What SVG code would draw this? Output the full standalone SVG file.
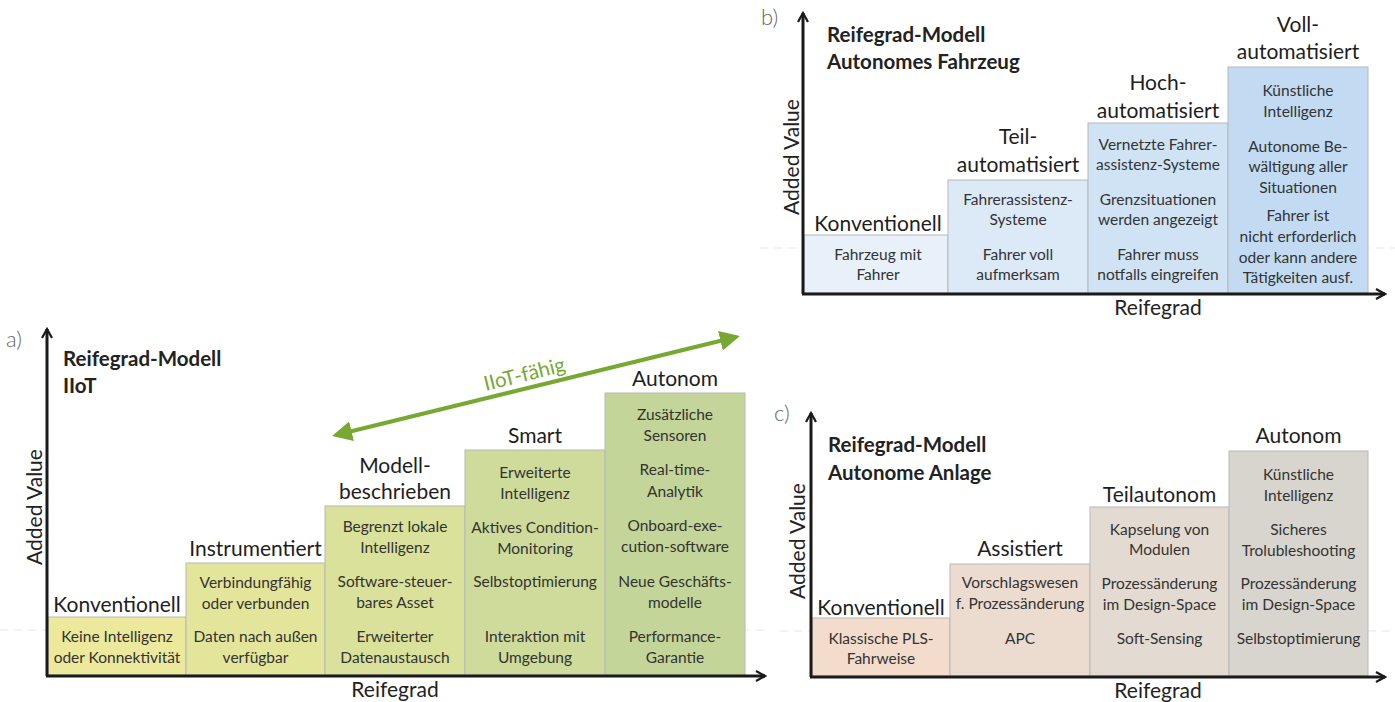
<svg xmlns="http://www.w3.org/2000/svg" width="1395" height="702" viewBox="0 0 1395 702">
<defs>
<style>
text{font-family:Lato,"Open Sans","Liberation Sans",sans-serif;fill:#222}
.t{font-size:15.5px;text-anchor:middle;fill:#333}
.lab{font-size:21px;text-anchor:middle;fill:#1e1e1e}
.ttl{font-size:20.5px;font-weight:bold;fill:#222}
.ax{font-size:21px;text-anchor:middle;fill:#222}
.pl{font-size:22px;font-weight:300;fill:#666}
.box{stroke:#b8b8b8;stroke-width:1}
.axis{stroke:#1a1a1a;stroke-width:3;fill:none}
.dash{stroke:#dfe5ee;stroke-width:1;stroke-dasharray:8 6}
</style>
<marker id="chev" viewBox="0 0 12 12" refX="10" refY="6" markerWidth="12" markerHeight="12" markerUnits="userSpaceOnUse" orient="auto">
<path d="M1,1 L10,6 L1,11" fill="none" stroke="#1a1a1a" stroke-width="2.2"/>
</marker>
<marker id="garr" viewBox="0 0 10 10" refX="8" refY="5" markerWidth="5" markerHeight="5" orient="auto-start-reverse">
<path d="M0,0 L10,5 L0,10 Z" fill="#76a832"/>
</marker>
</defs>
<rect width="1395" height="702" fill="#fff"/>
<line class="dash" x1="0" y1="630" x2="770" y2="630"/>
<line class="dash" x1="780" y1="631" x2="1395" y2="631"/>
<line class="dash" x1="760" y1="248" x2="1395" y2="248"/>

<!-- Panel a -->
<g id="panel-a">
<text class="pl" x="6" y="347">a)</text>
<text class="ttl" x="63" y="366">Reifegrad-Modell</text>
<text class="ttl" x="63" y="393">IIoT</text>
<text class="ax" transform="translate(42,507) rotate(-90)">Added Value</text>
<text class="ax" x="395" y="697">Reifegrad</text>
</g>
<g id="a-konventionell">
<rect class="box" x="48" y="617" width="138" height="58" fill="#ece89c"/>
<text class="lab" x="117" y="612">Konventionell</text>
<text class="t" x="117" y="642">Keine Intelligenz</text>
<text class="t" x="117" y="663">oder Konnektivität</text>
</g>
<g id="a-instrumentiert">
<rect class="box" x="186" y="563" width="139" height="112" fill="#e3e59b"/>
<text class="lab" x="255.5" y="556">Instrumentiert</text>
<text class="t" x="255.5" y="588">Verbindungfähig</text>
<text class="t" x="255.5" y="609">oder verbunden</text>
<text class="t" x="255.5" y="642">Daten nach außen</text>
<text class="t" x="255.5" y="663">verfügbar</text>
</g>
<g id="a-modell">
<rect class="box" x="325" y="506" width="140" height="169" fill="#d9e19b"/>
<text class="lab" x="395" y="473">Modell-</text>
<text class="lab" x="395" y="499">beschrieben</text>
<text class="t" x="395" y="532">Begrenzt lokale</text>
<text class="t" x="395" y="553">Intelligenz</text>
<text class="t" x="395" y="587">Software-steuer-</text>
<text class="t" x="395" y="608">bares Asset</text>
<text class="t" x="395" y="642">Erweiterter</text>
<text class="t" x="395" y="663">Datenaustausch</text>
</g>
<g id="a-smart">
<rect class="box" x="465" y="450" width="140" height="225" fill="#cedb9b"/>
<text class="lab" x="535" y="443">Smart</text>
<text class="t" x="535" y="478">Erweiterte</text>
<text class="t" x="535" y="499">Intelligenz</text>
<text class="t" x="535" y="533">Aktives Condition-</text>
<text class="t" x="535" y="554">Monitoring</text>
<text class="t" x="535" y="587">Selbstoptimierung</text>
<text class="t" x="535" y="642">Interaktion mit</text>
<text class="t" x="535" y="663">Umgebung</text>
</g>
<g id="a-autonom">
<rect class="box" x="605" y="393" width="140" height="282" fill="#c3d598"/>
<text class="lab" x="675" y="386">Autonom</text>
<text class="t" x="675" y="420">Zusätzliche</text>
<text class="t" x="675" y="441">Sensoren</text>
<text class="t" x="675" y="475">Real-time-</text>
<text class="t" x="675" y="497">Analytik</text>
<text class="t" x="675" y="531">Onboard-exe-</text>
<text class="t" x="675" y="552">cution-software</text>
<text class="t" x="675" y="587">Neue Geschäfts-</text>
<text class="t" x="675" y="608">modelle</text>
<text class="t" x="675" y="642">Performance-</text>
<text class="t" x="675" y="663">Garantie</text>
</g>

<!-- Panel b -->
<g id="panel-b">
<text class="pl" x="761" y="25">b)</text>
<text class="ttl" x="827" y="42">Reifegrad-Modell</text>
<text class="ttl" x="827" y="69">Autonomes Fahrzeug</text>
<text class="ax" transform="translate(799,157) rotate(-90)">Added Value</text>
<text class="ax" x="1158" y="315">Reifegrad</text>
</g>
<g id="b-konventionell">
<rect class="box" x="804" y="235" width="144" height="58" fill="#e8f1fa"/>
<text class="lab" x="878" y="231">Konventionell</text>
<text class="t" x="878" y="260">Fahrzeug mit</text>
<text class="t" x="878" y="280">Fahrer</text>
</g>
<g id="b-teil">
<rect class="box" x="948" y="180" width="140" height="113" fill="#dce9f7"/>
<text class="lab" x="1018" y="144">Teil-</text>
<text class="lab" x="1018" y="172">automatisiert</text>
<text class="t" x="1018" y="205">Fahrerassistenz-</text>
<text class="t" x="1018" y="225">Systeme</text>
<text class="t" x="1018" y="260">Fahrer voll</text>
<text class="t" x="1018" y="280">aufmerksam</text>
</g>
<g id="b-hoch">
<rect class="box" x="1088" y="123" width="140" height="170" fill="#d0e3f5"/>
<text class="lab" x="1158" y="90">Hoch-</text>
<text class="lab" x="1158" y="118">automatisiert</text>
<text class="t" x="1158" y="150">Vernetzte Fahrer-</text>
<text class="t" x="1158" y="170">assistenz-Systeme</text>
<text class="t" x="1158" y="205">Grenzsituationen</text>
<text class="t" x="1158" y="225">werden angezeigt</text>
<text class="t" x="1158" y="260">Fahrer muss</text>
<text class="t" x="1158" y="280">notfalls eingreifen</text>
</g>
<g id="b-voll">
<rect class="box" x="1228" y="67" width="140" height="226" fill="#c2dbf2"/>
<text class="lab" x="1298" y="32">Voll-</text>
<text class="lab" x="1298" y="59">automatisiert</text>
<text class="t" x="1298" y="96">Künstliche</text>
<text class="t" x="1298" y="117">Intelligenz</text>
<text class="t" x="1298" y="152">Autonome Be-</text>
<text class="t" x="1298" y="172">wältigung aller</text>
<text class="t" x="1298" y="193">Situationen</text>
<text class="t" x="1298" y="221">Fahrer ist</text>
<text class="t" x="1298" y="242">nicht erforderlich</text>
<text class="t" x="1298" y="263">oder kann andere</text>
<text class="t" x="1298" y="283">Tätigkeiten ausf.</text>
</g>

<!-- Panel c -->
<g id="panel-c">
<text class="pl" x="774" y="421">c)</text>
<text class="ttl" x="828" y="452">Reifegrad-Modell</text>
<text class="ttl" x="828" y="480">Autonome Anlage</text>
<text class="ax" transform="translate(805,541) rotate(-90)">Added Value</text>
<text class="ax" x="1158" y="698">Reifegrad</text>
</g>
<g id="c-konventionell">
<rect class="box" x="812" y="618" width="138" height="58" fill="#f3dccb"/>
<text class="lab" x="881" y="615">Konventionell</text>
<text class="t" x="881" y="644">Klassische PLS-</text>
<text class="t" x="881" y="664">Fahrweise</text>
</g>
<g id="c-assistiert">
<rect class="box" x="950" y="564" width="140" height="112" fill="#ecdccf"/>
<text class="lab" x="1020" y="556">Assistiert</text>
<text class="t" x="1020" y="588">Vorschlagswesen</text>
<text class="t" x="1020" y="609">f. Prozessänderung</text>
<text class="t" x="1020" y="644">APC</text>
</g>
<g id="c-teilautonom">
<rect class="box" x="1090" y="507" width="139" height="169" fill="#e3dbd1"/>
<text class="lab" x="1159.5" y="502">Teilautonom</text>
<text class="t" x="1159.5" y="535">Kapselung von</text>
<text class="t" x="1159.5" y="555">Modulen</text>
<text class="t" x="1159.5" y="589">Prozessänderung</text>
<text class="t" x="1159.5" y="610">im Design-Space</text>
<text class="t" x="1159.5" y="644">Soft-Sensing</text>
</g>
<g id="c-autonom">
<rect class="box" x="1229" y="451" width="139" height="225" fill="#d8d5ce"/>
<text class="lab" x="1298.5" y="443">Autonom</text>
<text class="t" x="1298.5" y="480">Künstliche</text>
<text class="t" x="1298.5" y="501">Intelligenz</text>
<text class="t" x="1298.5" y="535">Sicheres</text>
<text class="t" x="1298.5" y="556">Trolubleshooting</text>
<text class="t" x="1298.5" y="589">Prozessänderung</text>
<text class="t" x="1298.5" y="610">im Design-Space</text>
<text class="t" x="1298.5" y="644">Selbstoptimierung</text>
</g>

<!-- Connectors: axes and IIoT arrow -->
<g id="connectors">
<path class="axis" d="M47,676 V329" marker-end="url(#chev)"/>
<path class="axis" d="M46,676 H765" marker-end="url(#chev)"/>
<path class="axis" d="M803,294 V13" marker-end="url(#chev)"/>
<path class="axis" d="M802,294 H1385" marker-end="url(#chev)"/>
<path class="axis" d="M811,677 V413" marker-end="url(#chev)"/>
<path class="axis" d="M810,677 H1385" marker-end="url(#chev)"/>
<line x1="336" y1="435" x2="736" y2="337" stroke="#76a832" stroke-width="4" marker-start="url(#garr)" marker-end="url(#garr)"/>
<text transform="translate(526,381) rotate(-14)" style="font-size:20.5px;fill:#76a832;text-anchor:middle">IIoT-fähig</text>
</g>
</svg>
